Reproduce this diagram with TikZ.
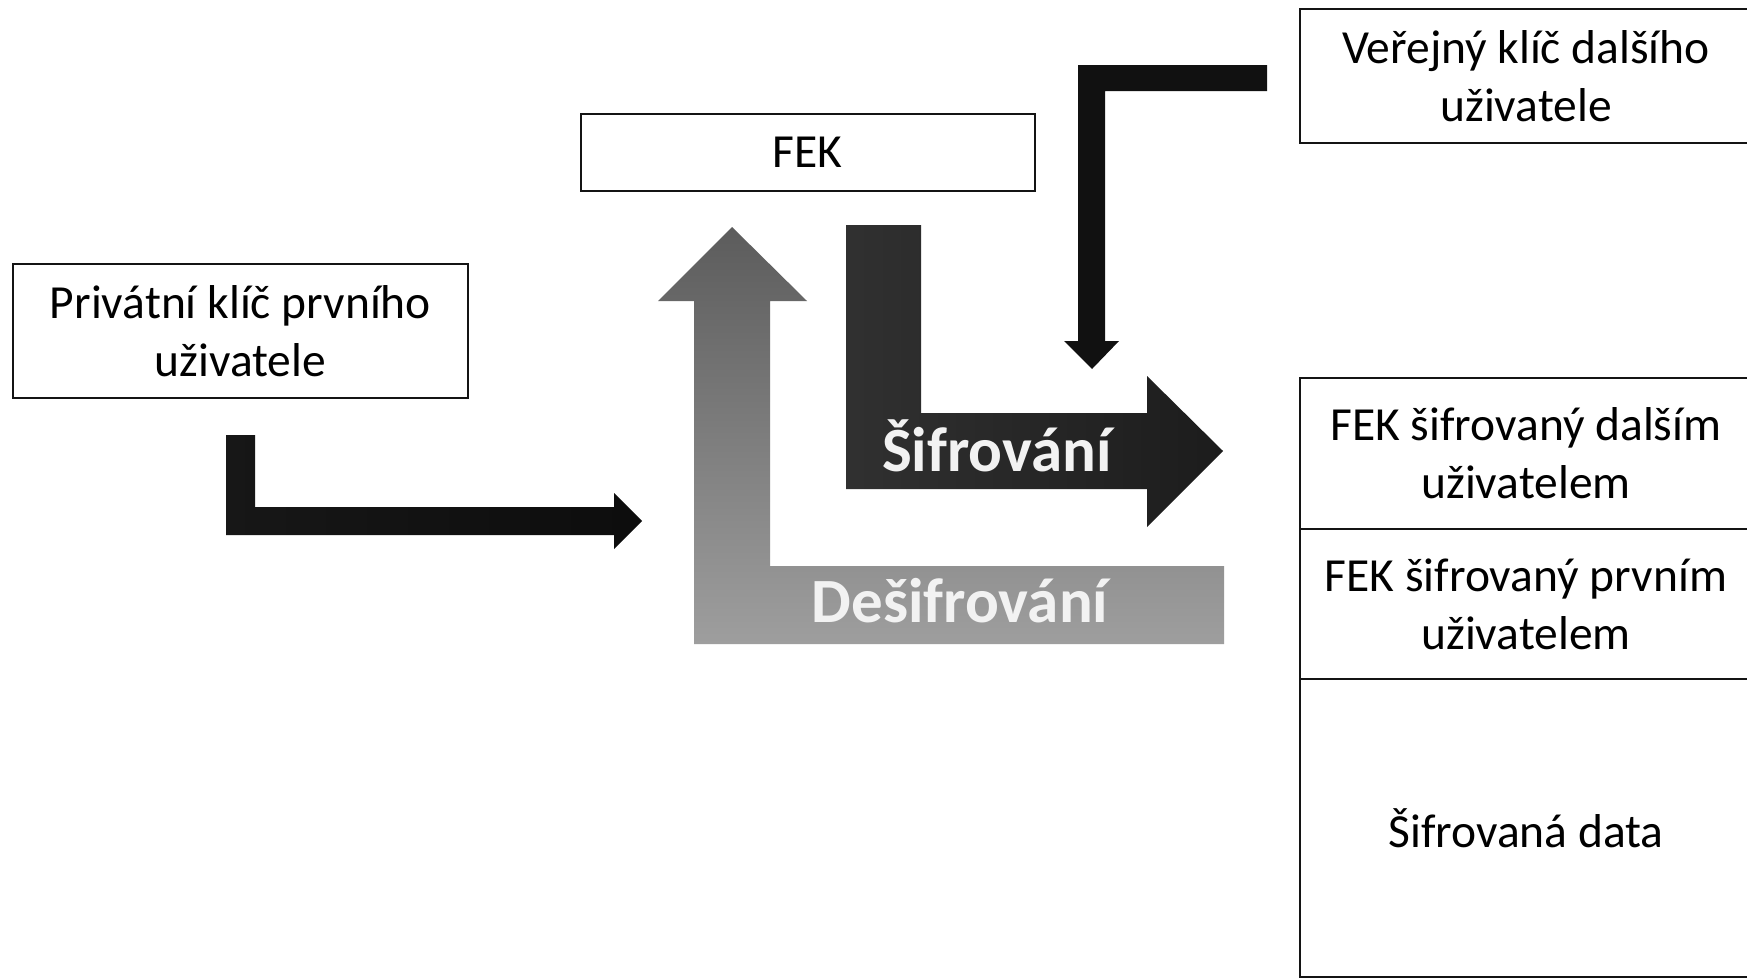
\documentclass[tikz,border=0pt]{standalone}
\usepackage{fontspec}
\setmainfont{Carlito}
\definecolor{boxline}{HTML}{141414}
\definecolor{inkdark}{HTML}{111111}
\definecolor{labeltext}{HTML}{F2F2F2}
\begin{document}
\begin{tikzpicture}[x=1pt,y=-1pt,
  box/.style={draw=boxline, line width=2pt, fill=white, inner sep=0pt,
    align=center, font=\fontsize{47.5}{58}\selectfont},
  arrowlabel/.style={text=labeltext, inner sep=0pt, anchor=base,
    font=\fontsize{63}{70}\selectfont\bfseries}]
\clip (0,0) rectangle (1747,977);
\fill[white] (0,0) rectangle (1747,977);

% key and data boxes
\node[box, minimum width=455pt, minimum height=134pt] (priv) at (240.5,331)
  {Privátní klíč prvního\\uživatele};
\node[box, minimum width=454pt, minimum height=77pt] (fek) at (807.5,152) {FEK};
\node[box, minimum width=453pt, minimum height=134pt] (pub) at (1526,76)
  {Veřejný klíč dalšího\\uživatele};
\node[box, minimum width=453pt, minimum height=151pt] (fekn) at (1526,453)
  {FEK šifrovaný dalším\\uživatelem};
\node[box, minimum width=453pt, minimum height=151pt] (fekf) at (1526,604)
  {FEK šifrovaný prvním\\uživatelem};
\node[box, minimum width=453pt, minimum height=298pt] (data) at (1526,828)
  {Šifrovaná data};

% private key feeding into the decryption
\shade[left color=black!91, right color=black!95]
  (226,435) -- (255,435) -- (255,507) -- (614,507) -- (614,493) -- (642,521)
  -- (614,549) -- (614,535) -- (226,535) -- cycle;

% public key feeding into the encryption
\fill[inkdark]
  (1267,65) -- (1267,91) -- (1105,91) -- (1105,341) -- (1119,341) -- (1092,369)
  -- (1064,341) -- (1078,341) -- (1078,65) -- cycle;

% decryption arrow, light grey, pointing up to FEK
\shade[top color=black!64, bottom color=black!38]
  (694,644) -- (694,301) -- (658,301) -- (732,227) -- (807,301) -- (770,301)
  -- (770,566) -- (1224,566) -- (1224,644) -- cycle;

% encryption arrow, dark, from FEK to the data stack
\shade[left color=black!81, right color=black!89]
  (846,225) -- (921,225) -- (921,413) -- (1147,413) -- (1147,376) -- (1223,451)
  -- (1147,527) -- (1147,489) -- (846,489) -- cycle;

\node[arrowlabel] (enc) at (997,471) {Šifrování};
\node[arrowlabel] (dec) at (960,622) {Dešifrování};
\end{tikzpicture}
\end{document}
